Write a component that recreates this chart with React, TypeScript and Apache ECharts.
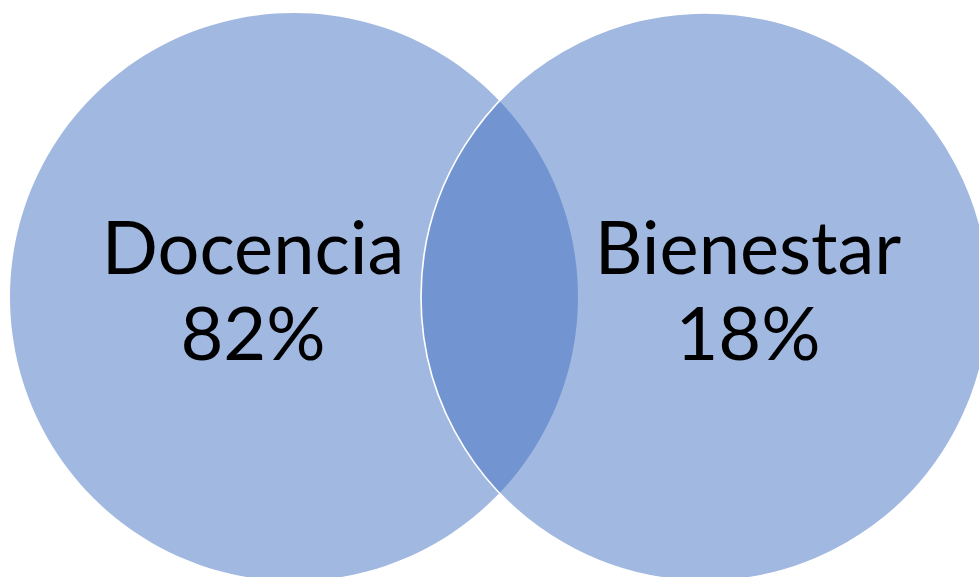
import React, { useEffect, useRef } from "react";
import * as echarts from "echarts";

// Data
const setNames: string[] = ["Docencia", "Bienestar"];
const setShares: number[] = [82, 18];

// Layout (axis units = pixels of the canvas)
const CANVAS_W = 979;
const CANVAS_H = 577;
const circleCenterX = [294, 705];
const circleCenterY = 297;
const circleRadius = 284;
const labelCenterX = [253, 748];
const labelLine1Y = 245;
const labelLine2Y = 331;

const FILL = "rgba(68,114,196,0.5)";
const FONT = "Lato, 'Noto Sans', sans-serif";

export default function App() {
  const ref = useRef<HTMLDivElement | null>(null);

  useEffect(() => {
    if (!ref.current) return;
    document.body.style.margin = "0";
    const chart = echarts.init(ref.current, null, { renderer: "svg" });

    const circleData = setNames.map((name, i) => ({
      name,
      value: [circleCenterX[i], circleCenterY, circleRadius, i],
    }));
    const labelData = setNames.map((name, i) => ({
      name,
      value: [labelCenterX[i], labelLine1Y, labelLine2Y, i],
    }));

    chart.setOption({
      animation: false,
      backgroundColor: "#ffffff",
      grid: { left: 0, right: 0, top: 0, bottom: 0 },
      xAxis: { type: "value", min: 0, max: CANVAS_W, show: false },
      yAxis: { type: "value", min: 0, max: CANVAS_H, inverse: true, show: false },
      tooltip: { show: false },
      series: [
        {
          type: "custom",
          coordinateSystem: "cartesian2d",
          data: circleData,
          silent: true,
          renderItem: (params: any, api: any) => {
            const c = api.coord([api.value(0), api.value(1)]);
            const r = api.size([api.value(2), 0])[0];
            const idx = api.value(3);
            return {
              type: "circle",
              shape: { cx: c[0], cy: c[1], r },
              style: {
                fill: FILL,
                stroke: idx === 1 ? "#ffffff" : "none",
                lineWidth: idx === 1 ? 1.6 : 0,
              },
            };
          },
        },
        {
          type: "custom",
          coordinateSystem: "cartesian2d",
          data: labelData,
          silent: true,
          renderItem: (params: any, api: any) => {
            const idx = api.value(3);
            const p1 = api.coord([api.value(0), api.value(1)]);
            const p2 = api.coord([api.value(0), api.value(2)]);
            const textStyle = {
              fill: "#000000",
              fontSize: 74,
              fontFamily: FONT,
              align: "center",
              verticalAlign: "middle",
            };
            return {
              type: "group",
              children: [
                {
                  type: "text",
                  x: p1[0],
                  y: p1[1],
                  style: { ...textStyle, text: setNames[idx] },
                },
                {
                  type: "text",
                  x: p2[0],
                  y: p2[1],
                  style: { ...textStyle, text: setShares[idx] + "%" },
                },
              ],
            };
          },
        },
      ],
    });

    return () => chart.dispose();
  }, []);

  return <div ref={ref} style={{ width: CANVAS_W, height: CANVAS_H }} />;
}
